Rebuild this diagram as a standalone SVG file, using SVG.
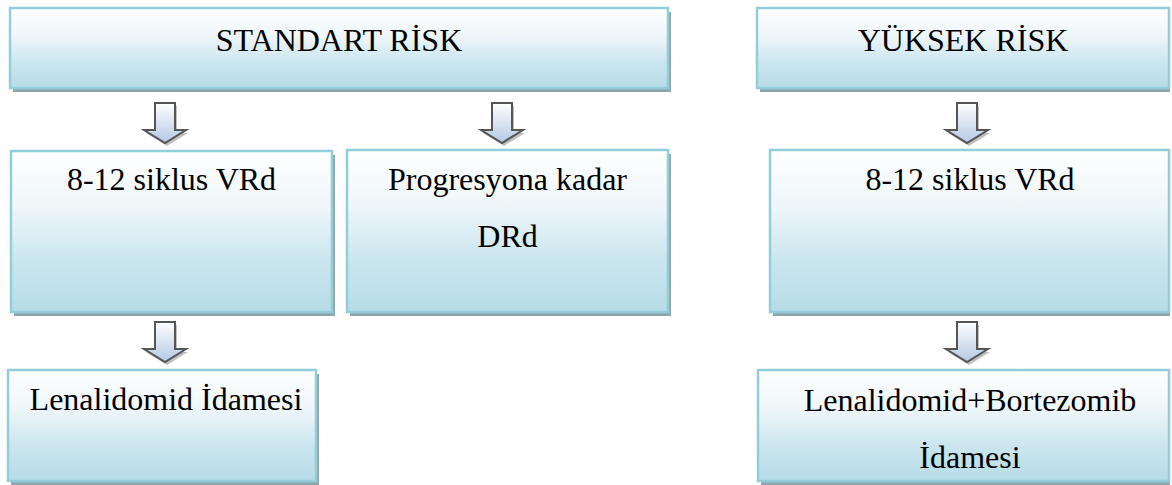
<svg xmlns="http://www.w3.org/2000/svg" width="1172" height="485" viewBox="0 0 1172 485">
  <defs>
    <linearGradient id="boxFill" x1="0" y1="0" x2="0" y2="1">
      <stop offset="0" stop-color="#FFFFFF"/>
      <stop offset="0.35" stop-color="#EEF6F9"/>
      <stop offset="0.7" stop-color="#C9E5EE"/>
      <stop offset="1" stop-color="#B6DCE7"/>
    </linearGradient>
    <linearGradient id="arrowFill" x1="0" y1="0" x2="0" y2="1">
      <stop offset="0" stop-color="#FFFFFF"/>
      <stop offset="1" stop-color="#B4C8E4"/>
    </linearGradient>
    <path id="arrow" d="M-10,0 H10 V27 H21 L0,40 L-21,27 H-10 Z"/>
  </defs>
  <style>
    .shadow { fill: #8FA7AF; }
    .box { fill: url(#boxFill); stroke: #92CDDC; stroke-width: 2.5; }
    .lbl { font-size: 32px; fill: #000000; text-anchor: middle; }
    .arr { fill: url(#arrowFill); stroke: #555555; stroke-width: 2; stroke-linejoin: miter; }
    .arrsh { fill: #8C8C8C; opacity: 0.55; }
  </style>
  <rect width="1172" height="485" fill="#FFFFFF"/>

  <g id="connectors">
    <g transform="translate(165,103)"><use href="#arrow" class="arrsh" transform="translate(2,3)"/><use href="#arrow" class="arr"/></g>
    <g transform="translate(502,103)"><use href="#arrow" class="arrsh" transform="translate(2,3)"/><use href="#arrow" class="arr"/></g>
    <g transform="translate(967,103)"><use href="#arrow" class="arrsh" transform="translate(2,3)"/><use href="#arrow" class="arr"/></g>
    <g transform="translate(165,322)"><use href="#arrow" class="arrsh" transform="translate(2,3)"/><use href="#arrow" class="arr"/></g>
    <g transform="translate(967,322)"><use href="#arrow" class="arrsh" transform="translate(2,3)"/><use href="#arrow" class="arr"/></g>
  </g>

  <g font-family="'Liberation Serif', 'Times New Roman', 'DejaVu Serif', serif">
  <g id="standart-risk">
    <rect class="shadow" x="13" y="12" width="658" height="80"/>
    <rect class="box" x="10" y="8" width="658" height="80"/>
    <text class="lbl" x="339" y="51">STANDART RİSK</text>
  </g>

  <g id="yuksek-risk">
    <rect class="shadow" x="760" y="12" width="410" height="80"/>
    <rect class="box" x="757" y="8" width="412" height="80"/>
    <text class="lbl" x="963" y="51">YÜKSEK RİSK</text>
  </g>

  <g id="vrd-left">
    <rect class="shadow" x="14" y="155" width="321" height="161"/>
    <rect class="box" x="11" y="151" width="321" height="161"/>
    <text class="lbl" x="171.5" y="190">8-12 siklus VRd</text>
  </g>

  <g id="drd">
    <rect class="shadow" x="350" y="154" width="321" height="162"/>
    <rect class="box" x="347" y="150" width="321" height="162"/>
    <text class="lbl" x="507.5" y="190">Progresyona kadar</text>
    <text class="lbl" x="507.5" y="247">DRd</text>
  </g>

  <g id="vrd-right">
    <rect class="shadow" x="773" y="154" width="397" height="162"/>
    <rect class="box" x="770" y="150" width="399" height="162"/>
    <text class="lbl" x="970" y="190">8-12 siklus VRd</text>
  </g>

  <g id="lenalidomid">
    <rect class="shadow" x="11" y="374" width="308" height="111"/>
    <rect class="box" x="8" y="370" width="308" height="111"/>
    <text class="lbl" x="166" y="410">Lenalidomid İdamesi</text>
  </g>

  <g id="len-bort">
    <rect class="shadow" x="761" y="374" width="409" height="111"/>
    <rect class="box" x="758" y="370" width="411" height="111"/>
    <text class="lbl" x="970" y="411">Lenalidomid+Bortezomib</text>
    <text class="lbl" x="970" y="468">İdamesi</text>
  </g>
  </g>
</svg>
